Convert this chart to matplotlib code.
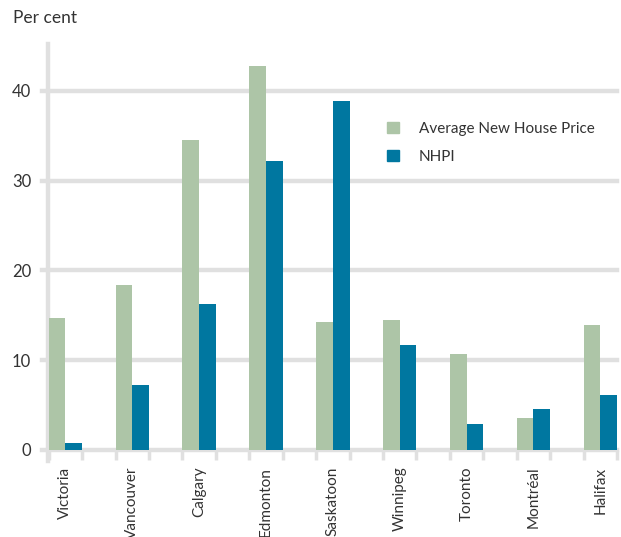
import numpy as np
import matplotlib.pyplot as plt
from matplotlib.patches import Patch

plt.rcParams['font.family'] = ['Lato', 'DejaVu Sans']

cities = ['Victoria', 'Vancouver', 'Calgary', 'Edmonton', 'Saskatoon',
          'Winnipeg', 'Toronto', 'Montréal', 'Halifax']
avg_price = [14.7, 18.4, 34.5, 42.7, 14.2, 14.5, 10.7, 3.6, 13.9]
nhpi = [0.8, 7.2, 16.3, 32.2, 38.9, 11.7, 2.9, 4.6, 6.1]
yticks = [0, 10, 20, 30, 40]

green = '#adc5a7'
blue = '#0077a0'
grey = '#e0e0e0'
txt = '#333333'

W, H = 621, 537
fig = plt.figure(figsize=(W / 100, H / 100), dpi=100)
ax = fig.add_axes([48 / W, 1 - 450 / H, 569 / W, 406 / H])

x = np.arange(len(cities))
w = 0.25
ax.set_xlim(-0.26, 8.24)
ax.set_ylim(0, 45.2)

# gridlines, extended a little to the left as tick stubs
for v in yticks:
    ax.axhline(v, xmin=-6 / 569, xmax=1, color=grey, lw=3.2, clip_on=False, zorder=1)

ax.bar(x - w / 2, avg_price, w, color=green, zorder=3, label='Average New House Price')
ax.bar(x + w / 2, nhpi, w, color=blue, zorder=3, label='NHPI')

for s in ['top', 'right', 'bottom']:
    ax.spines[s].set_visible(False)
ax.spines['left'].set_color(grey)
ax.spines['left'].set_linewidth(3.2)
ax.spines['left'].set_bounds(-1.2, 45.2)
ax.spines['left'].set_zorder(2)

ax.set_yticks(yticks)
ax.set_yticklabels([str(v) for v in yticks], fontsize=12, color=txt)
ax.tick_params(axis='y', length=0, pad=12)

ax.set_xticks(x)
ax.set_xticklabels(cities, rotation=90, fontsize=11, color=txt, va='top')
ax.set_xticks(np.arange(-0.25, 8.3, 0.5), minor=True)
ax.tick_params(axis='x', which='major', length=0, pad=12)
ax.tick_params(axis='x', which='minor', length=7.5, width=2.5, color=grey, direction='out')

fig.text(13 / W, 1 - 18 / H, 'Per cent', fontsize=12.5, color=txt, va='center')

handles = [Patch(color=green, label='Average New House Price'),
           Patch(color=blue, label='NHPI')]
ax.legend(handles=handles, loc='upper left', bbox_to_anchor=(373 / W, 1 - 108 / H),
          bbox_transform=fig.transFigure, frameon=False, fontsize=11,
          handlelength=0.8, handleheight=0.8, handletextpad=1.3, labelspacing=0.9,
          labelcolor=txt)

fig.savefig('out.png', dpi=100)
